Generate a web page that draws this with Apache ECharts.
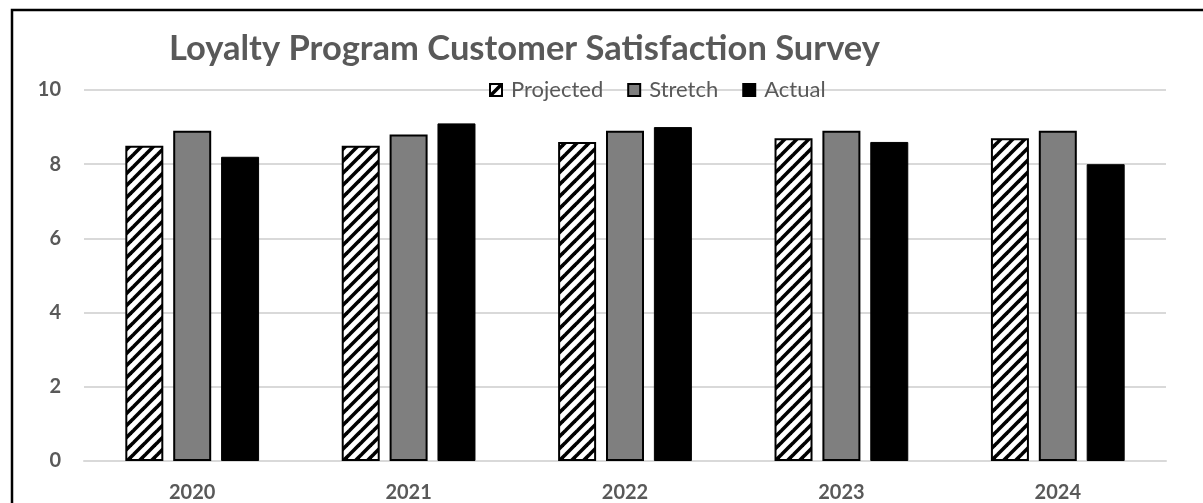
<!DOCTYPE html>
<html>
<head>
<meta charset="utf-8">
<script src="https://cdn.jsdelivr.net/npm/echarts@6/dist/echarts.min.js"></script>
<style>
html,body{margin:0;padding:0;background:#fff;}
#chart{width:1203px;height:503px;}
</style>
</head>
<body>
<div id="chart"></div>
<script>
const titleText = 'Loyalty Program Customer Satisfaction Survey';
const categories = ['2020', '2021', '2022', '2023', '2024'];
const projected = [8.5, 8.5, 8.6, 8.7, 8.7];
const stretch = [8.9, 8.8, 8.9, 8.9, 8.9];
const actual = [8.2, 9.1, 9.0, 8.6, 8.0];
const seriesNames = ['Projected', 'Stretch', 'Actual'];
const yMin = 0, yMax = 10, yStep = 2;

function hatch() {
  const s = 12;
  const c = document.createElement('canvas');
  c.width = s; c.height = s;
  const g = c.getContext('2d');
  g.fillStyle = '#fff';
  g.fillRect(0, 0, s, s);
  g.strokeStyle = '#000';
  g.lineWidth = 3.6;
  [0, s, 2 * s].forEach(function (k) {
    g.beginPath();
    g.moveTo(k + 4, -4);
    g.lineTo(-4, k + 4);
    g.stroke();
  });
  return c;
}

const FONT = 'Lato';
const chart = echarts.init(document.getElementById('chart'), null, {renderer: 'canvas'});
chart.setOption({
  backgroundColor: '#fff',
  animation: false,
  title: {
    text: titleText,
    left: 164,
    top: 26,
    textStyle: {fontFamily: FONT, fontWeight: 'bold', fontSize: 34.5, color: '#595959'}
  },
  legend: {
    data: seriesNames,
    icon: 'rect',
    left: 484,
    top: 74,
    itemWidth: 12,
    itemHeight: 12,
    itemGap: 24,
    textStyle: {fontFamily: FONT, fontSize: 22, color: '#595959', padding: [0, 0, 0, 4]}
  },
  grid: {left: 84, right: 37, top: 90, bottom: 38, containLabel: false},
  xAxis: {
    type: 'category',
    data: categories,
    axisLine: {lineStyle: {color: '#d9d9d9', width: 2}},
    axisTick: {show: false},
    axisLabel: {fontFamily: FONT, fontWeight: 'bold', fontSize: 20, color: '#595959', margin: 22}
  },
  yAxis: {
    type: 'value',
    min: yMin, max: yMax, interval: yStep,
    axisLine: {show: false},
    axisTick: {show: false},
    splitLine: {lineStyle: {color: '#d9d9d9', width: 2}},
    axisLabel: {fontFamily: FONT, fontWeight: 'bold', fontSize: 20, color: '#595959', margin: 23}
  },
  series: [
    {name: seriesNames[0], type: 'bar', data: projected, barWidth: 38, barGap: '26%',
     itemStyle: {color: {image: hatch(), repeat: 'repeat'}, borderColor: '#000', borderWidth: 2}},
    {name: seriesNames[1], type: 'bar', data: stretch, barWidth: 38, barGap: '26%',
     itemStyle: {color: '#7f7f7f', borderColor: '#000', borderWidth: 2}},
    {name: seriesNames[2], type: 'bar', data: actual, barWidth: 38, barGap: '26%',
     itemStyle: {color: '#000', borderColor: '#000', borderWidth: 1}}
  ],
  graphic: [{
    type: 'rect', z: 100,
    shape: {x: 12, y: 10, width: 1400, height: 700},
    style: {fill: 'none', stroke: '#000', lineWidth: 2.5}
  }]
});
</script>
</body>
</html>
